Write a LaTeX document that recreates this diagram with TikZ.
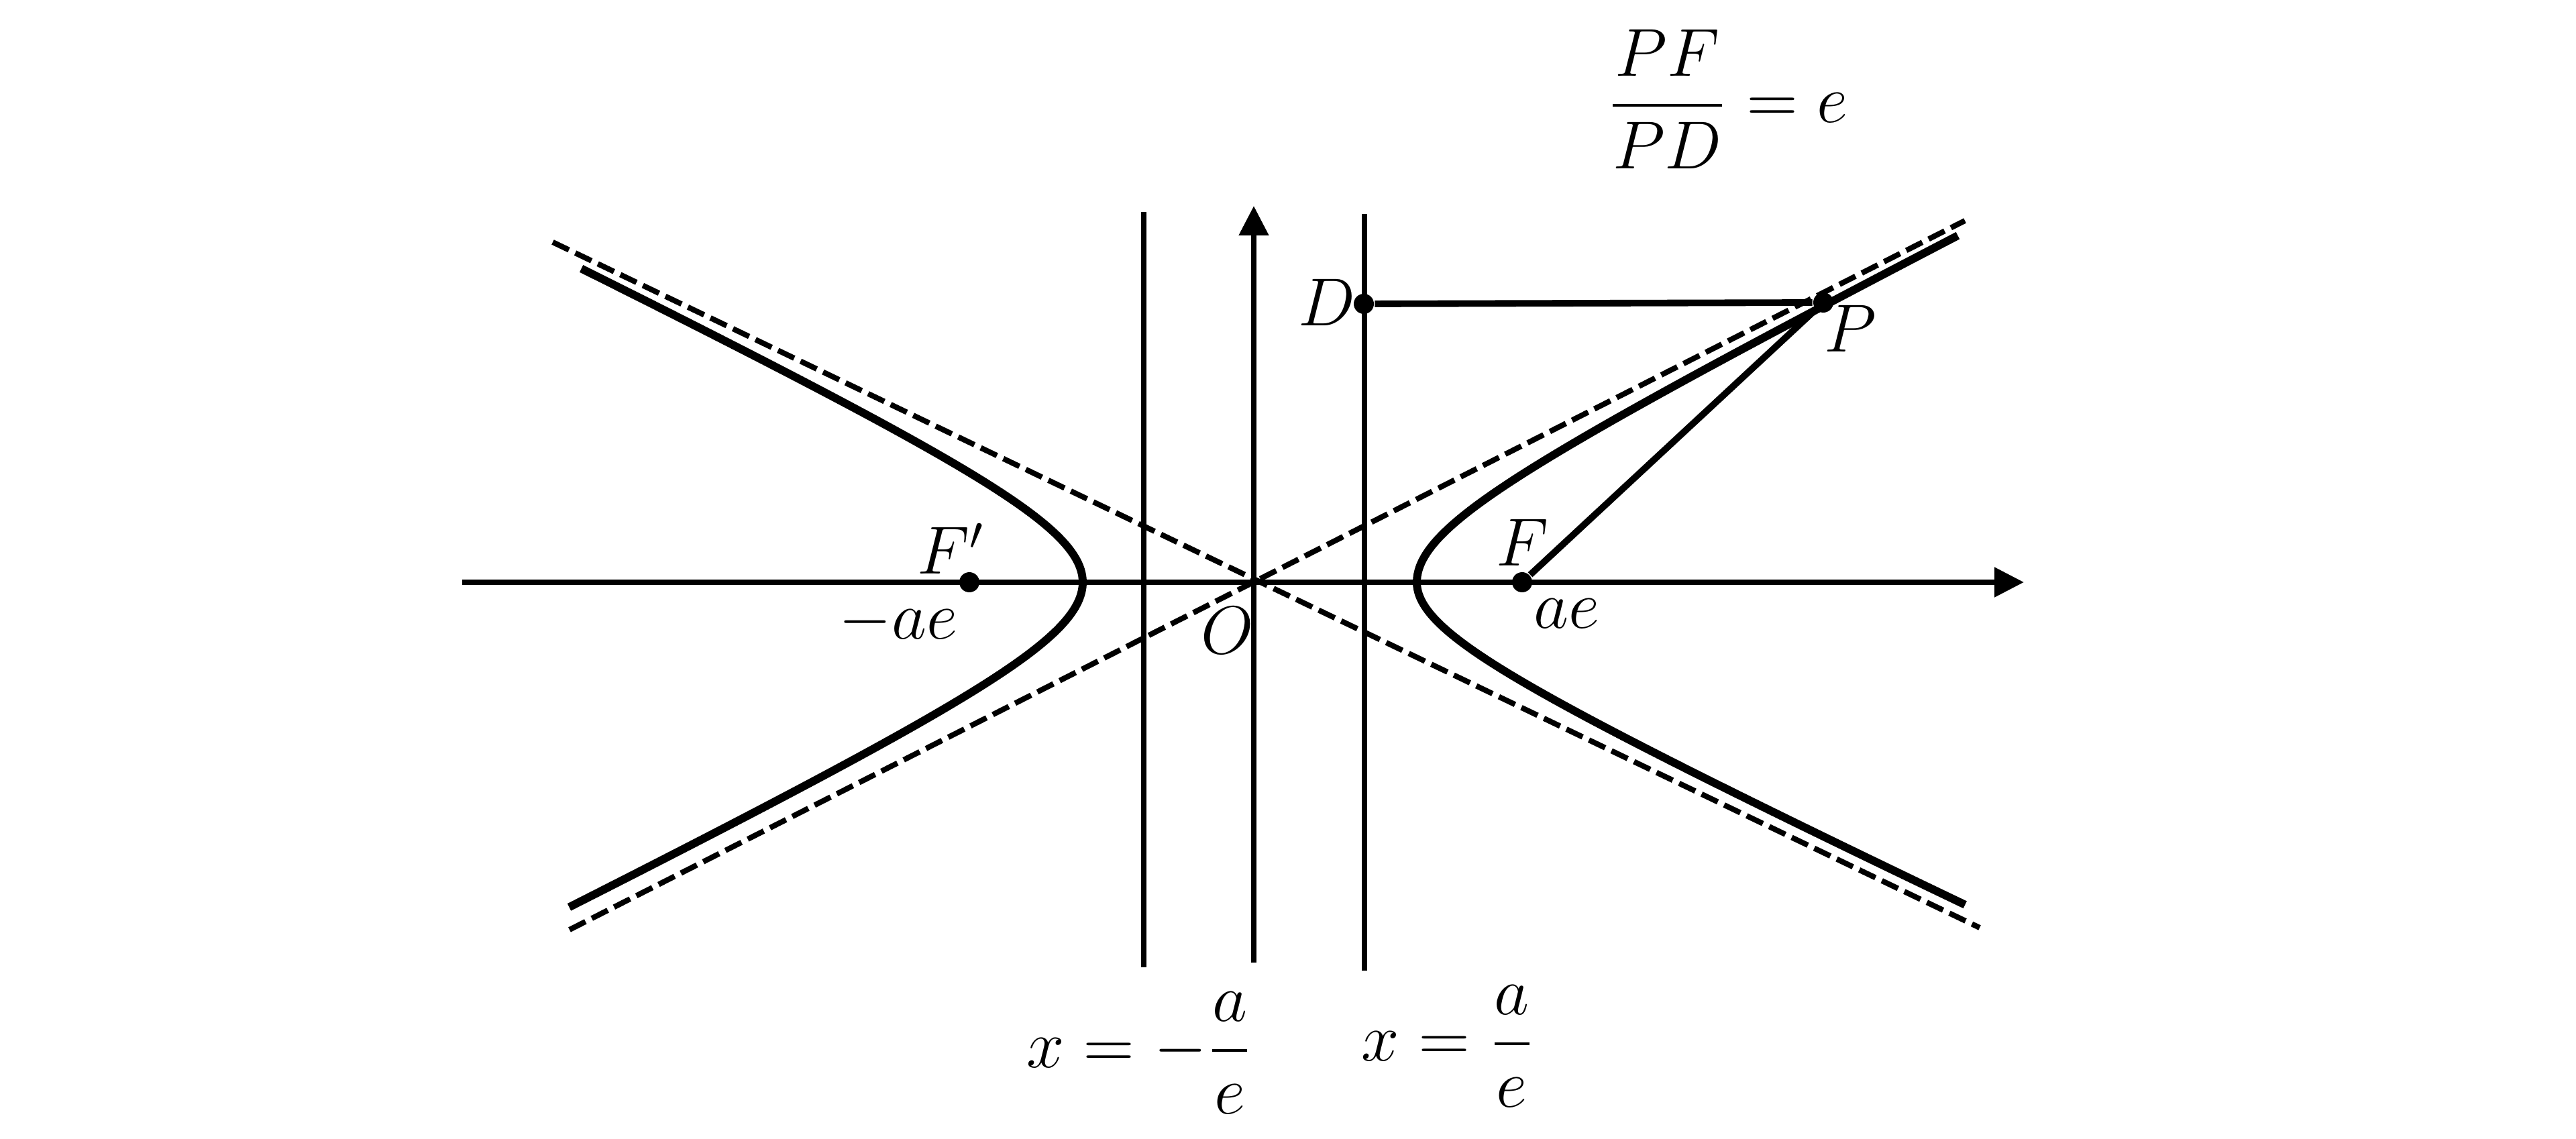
\documentclass[tikz,border=0pt]{standalone}
\usepackage{amsmath,amssymb}
\usepackage{tikz}
\usetikzlibrary{arrows.meta,positioning}
\tikzset{
  axis/.style={line width=1.15pt,-{Triangle[length=0.22cm,width=0.215cm]}},
  branch/.style={line width=1.7pt},
  asym/.style={line width=1.15pt,dash pattern=on 3.8pt off 1.5pt},
  directrix/.style={line width=1.15pt},
  seg/.style={line width=1.4pt},
  dot/.style={circle,fill,inner sep=0pt,minimum size=0.15cm}
}

\begin{document}
\begin{tikzpicture}[every node/.style={font=\Large,inner sep=1pt}]
\useasboundingbox (-9.345,-4.145) rectangle (9.855,4.34);
%%%%%%%%%%%%%%%%
\coordinate (xl) at (-5.9,0);
\coordinate (xr) at (5.74,0);
\coordinate (yb) at (0,-2.835);
\coordinate (yt) at (0,2.805);
\draw [axis] (xl) -- (xr);
\draw [axis] (yb) -- (yt);
%%%%%%%%%%%%%%%%
\coordinate (dlt) at (-0.82,2.76);
\coordinate (dlb) at (-0.82,-2.87);
\coordinate (drt) at (0.825,2.745);
\coordinate (drb) at (0.825,-2.895);
\draw [directrix] (dlt) -- (dlb);
\draw [directrix] (drt) -- (drb);
%%%%%%%%%%%%%%%%
\coordinate (a1s) at (-5.225,2.535);
\coordinate (a1e) at (5.41,-2.575);
\coordinate (a2s) at (-5.1,-2.59);
\coordinate (a2e) at (5.3,2.695);
\draw [asym] (a1s) -- (a1e);
\draw [asym] (a2s) -- (a2e);
%%%%%%%%%%%%%%%%
\draw [branch] plot[domain=-2.153:2.143,samples=90,smooth]
  ({1.215*cosh(\x)},{(\x<0 ? 0.566 : 0.615)*sinh(\x)});
\draw [branch] plot[domain=-2.064:2.046,samples=90,smooth]
  ({-1.275*cosh(\x)},{(\x<0 ? 0.625 : 0.615)*sinh(\x)});
%%%%%%%%%%%%%%%%
\node [dot] (D) at (0.82,2.075) {};
\node [dot] (P) at (4.245,2.085) {};
\node [dot] (F) at (2.0,0) {};
\node [dot] (Fp) at (-2.12,0) {};
\draw [seg] (D) -- (P);
\draw [seg] (F) -- (P);
%%%%%%%%%%%%%%%%
\node (Dlabel) at (0.545,2.085) {$D$};
\node (Plabel) at (4.445,1.89) {$P$};
\node (Fplabel) at (-2.255,0.25) {$F'$};
\node (maelabel) at (-2.65,-0.295) {$-ae$};
\node (Olabel) at (-0.195,-0.36) {$O$};
\node (Flabel) at (2.0,0.295) {$F$};
\node (aelabel) at (2.33,-0.235) {$ae$};
%%%%%%%%%%%%%%%%
\node (ratio) at (3.53,3.6) {$\dfrac{PF}{PD} = e$};
\node (dirleft) at (-0.85,-3.51) {$x = -\dfrac{a}{e}$};
\node (dirright) at (1.45,-3.46) {$x = \dfrac{a}{e}$};
\end{tikzpicture}
\end{document}
